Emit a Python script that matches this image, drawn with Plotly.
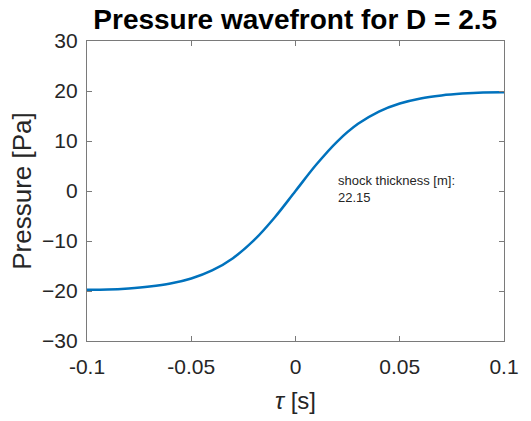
import plotly.graph_objects as go

tau = [-0.1, -0.09, -0.08, -0.07, -0.06, -0.05, -0.04, -0.03, -0.02, -0.01, 0.0,
       0.01, 0.02, 0.03, 0.04, 0.05, 0.06, 0.07, 0.08, 0.09, 0.1]
pressure = [-19.74, -19.70, -19.48, -19.11, -18.52, -17.50, -15.89, -13.43, -9.89, -5.29, 0.0,
            5.29, 9.89, 13.43, 15.89, 17.50, 18.52, 19.11, 19.48, 19.70, 19.74]
x_ticks = [-0.1, -0.05, 0, 0.05, 0.1]
x_ticklabels = ["-0.1", "-0.05", "0", "0.05", "0.1"]
y_ticks = [-30, -20, -10, 0, 10, 20, 30]
title_text = "<b>Pressure wavefront for D = 2.5</b>"
note_text = "shock thickness [m]:<br>22.15"

font_family = "Liberation Sans, Arial, Helvetica, sans-serif"
axis_col = "#7a7a7a"
text_col = "#262626"

fig = go.Figure()
fig.add_trace(go.Scatter(x=tau, y=pressure, mode="lines",
                         line=dict(color="#0072BD", width=2.5, shape="spline"),
                         showlegend=False))

fig.add_annotation(x=0.0195, y=4.0, xref="x", yref="y", text=note_text,
                   showarrow=False, xanchor="left", yanchor="top", align="left",
                   font=dict(family=font_family, size=13, color=text_col))

fig.update_layout(
    width=531, height=421,
    margin=dict(l=87, r=23, t=41, b=79),
    paper_bgcolor="white", plot_bgcolor="white",
    font=dict(family=font_family, color=text_col),
    title=dict(text=title_text, x=0.556, xanchor="center", y=0.955, yanchor="middle",
               font=dict(family=font_family, size=28, color="black")),
)
fig.update_xaxes(range=[-0.1, 0.1], tickvals=x_ticks, ticktext=x_ticklabels,
                 showgrid=False, zeroline=False, showline=True, linecolor=axis_col, linewidth=1.3,
                 mirror="ticks", ticks="inside", ticklen=5, tickcolor=axis_col,
                 ticklabelstandoff=7,
                 tickfont=dict(size=21, color=text_col),
                 title=dict(text="<i>τ</i> [s]", font=dict(size=24, color=text_col), standoff=14))
fig.update_yaxes(range=[-30, 30], tickvals=y_ticks,
                 showgrid=False, zeroline=False, showline=True, linecolor=axis_col, linewidth=1.3,
                 mirror="ticks", ticks="inside", ticklen=5, tickcolor=axis_col,
                 ticklabelstandoff=4,
                 tickfont=dict(size=21, color=text_col),
                 title=dict(text="Pressure [Pa]", font=dict(size=26, color=text_col), standoff=2))

fig.write_html("out.html")
